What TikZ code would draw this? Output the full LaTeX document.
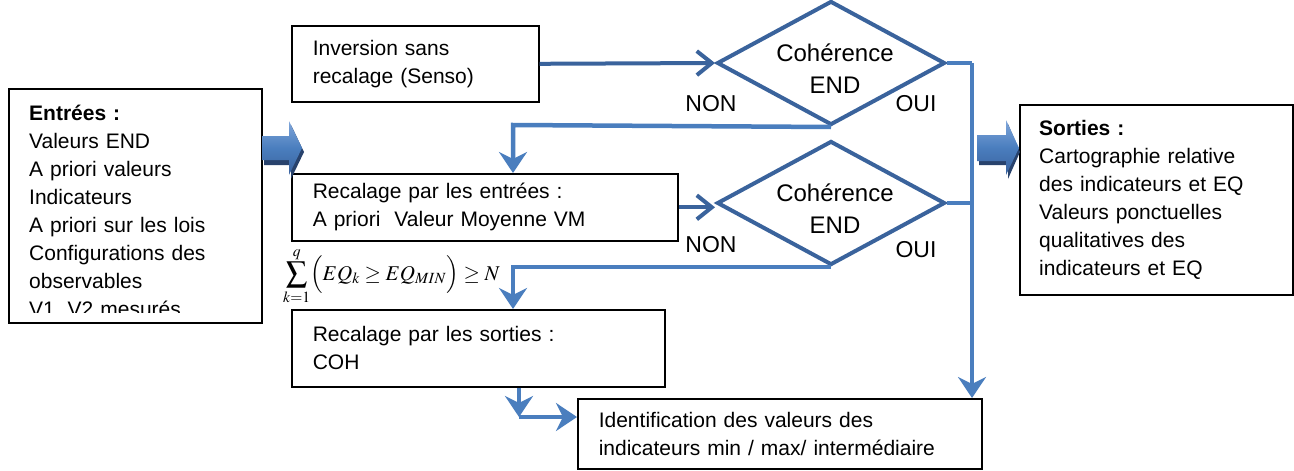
\documentclass[tikz,border=0pt]{standalone}
\usepackage{mathptmx}
\usepackage[no-math]{fontspec}
\setmainfont{Liberation Sans}
\usetikzlibrary{arrows.meta,shapes.geometric}
\definecolor{dblue}{RGB}{58,99,156}
\definecolor{lblue}{RGB}{74,126,190}
\definecolor{navy}{RGB}{40,66,108}
\definecolor{topblue}{RGB}{128,166,218}
\definecolor{botblue}{RGB}{58,98,158}
\begin{document}
\begin{tikzpicture}[x=1pt,y=-1pt,
  txt/.style={font=\fontsize{21}{28}\selectfont},
  box/.style={txt,draw=black,line width=1.6pt,rectangle,inner xsep=21pt,inner ysep=0pt,align=left,anchor=north west},
  diam/.style={diamond,draw=dblue,line width=4pt,inner sep=0pt,shape aspect=1.84,
    minimum width=228pt,minimum height=124pt},
  dtext/.style={align=center,inner sep=0pt,font=\fontsize{24}{32}\selectfont},
  lab/.style={font=\fontsize{23}{28}\selectfont,inner sep=0pt},
  thin/.style={line width=4pt,-{Straight Barb[length=15pt,width=24pt,line width=4pt]}},
  conn/.style={line width=4.5pt,draw=lblue},
  big/.style={conn,-{Stealth[length=21pt,width=28pt,inset=7pt]}},
  blockshadow/.style={fill=navy},
  block/.style={top color=topblue,bottom color=botblue,middle color=lblue},
]
\useasboundingbox (0,0) rectangle (1294,471);

% boxes
\node[box,minimum width=247pt,minimum height=76pt,text width=205pt] (inv) at (291,25)
  {Inversion sans\\recalage (Senso)};
\node[box,minimum width=386pt,minimum height=67pt,text width=344pt] (re) at (291,173)
  {Recalage par les entrées :\\A priori\ \ Valeur Moyenne VM};
\node[box,minimum width=373pt,minimum height=77pt,text width=331pt] (rs) at (291,309)
  {Recalage par les sorties :\\COH};
\node[box,minimum width=404pt,minimum height=70pt,text width=362pt] (ident) at (577,398)
  {Identification des valeurs des\\indicateurs min / max/ intermédiaire};
\node[box,minimum width=253pt,minimum height=234pt] (ent) at (8,88) {};
\node[box,minimum width=273pt,minimum height=190pt] (sor) at (1019,104) {};

% box texts
\begin{scope}
  \clip (8,88) rectangle (261,312);
  \node[txt,anchor=north west,inner sep=0pt,text width=235pt,align=left] (enttxt) at (29,105)
    {\textbf{Entrées :}\\Valeurs END\\A priori valeurs\\Indicateurs\\A priori sur les lois\\Configurations des\\observables\\V1, V2 mesurés};
\end{scope}
\node[txt,anchor=north west,inner sep=0pt,text width=250pt,align=left] (sortxt) at (1039,120)
  {\textbf{Sorties :}\\Cartographie relative\\des indicateurs et EQ\\Valeurs ponctuelles\\qualitatives des\\indicateurs et EQ};

% diamonds
\node[diam] (d1) at (831,63) {};
\node[diam] (d2) at (831,203) {};
\node[dtext] (t1) at (835,69) {Cohérence\\END};
\node[dtext] (t2) at (835,209) {Cohérence\\END};

\node[lab] (non1) at (711,104) {NON};
\node[lab] (oui1) at (916,104) {OUI};
\node[lab] (non2) at (711,245) {NON};
\node[lab] (oui2) at (916,250) {OUI};

% formula
\node[anchor=west,inner sep=0pt,font=\fontsize{21}{24}\selectfont] (form) at (283,276)
  {$\displaystyle\sum_{k=1}^{q}\Bigl(EQ_k \geq EQ_{MIN}\Bigr)\geq N$};

% coordinates
\coordinate (v1) at (972,63);
\coordinate (n1) at (513,125);
\coordinate (n2) at (513,267);
\coordinate (c2) at (519,417);

% connectors
\draw[thin,draw=dblue] (inv.east) -- (d1.west);
\draw[thin,draw=dblue] (re.east) -- (re.east -| d2.west);
\draw[conn] (d1.east) -- (v1);
\draw[big] (v1) -- (v1 |- ident.north);
\draw[conn] (d2.east) -- (d2.east -| v1);
\draw[big] (d1.south) -- (n1) -- (n1 |- re.north);
\draw[big] (d2.south) -- (n2) -- (n2 |- rs.north);
\draw[big] (rs.south -| c2) -- (c2);
\draw[big] (c2) -- (c2 -| ident.west);

% block arrows
\fill[blockshadow] (264,140) -- (291,140) -- (291,125) -- (304,152) -- (291,179) -- (291,165) -- (264,165) -- cycle;
\shade[block] (262,136) -- (289,136) -- (289,121) -- (302,148) -- (289,175) -- (289,160) -- (262,160) -- cycle;
\fill[blockshadow] (979,139) -- (1008,139) -- (1008,124) -- (1020,152) -- (1008,179) -- (1008,165) -- (979,165) -- cycle;
\shade[block] (977,135) -- (1006,135) -- (1006,120) -- (1019,148) -- (1006,175) -- (1006,161) -- (977,161) -- cycle;
\end{tikzpicture}
\end{document}
